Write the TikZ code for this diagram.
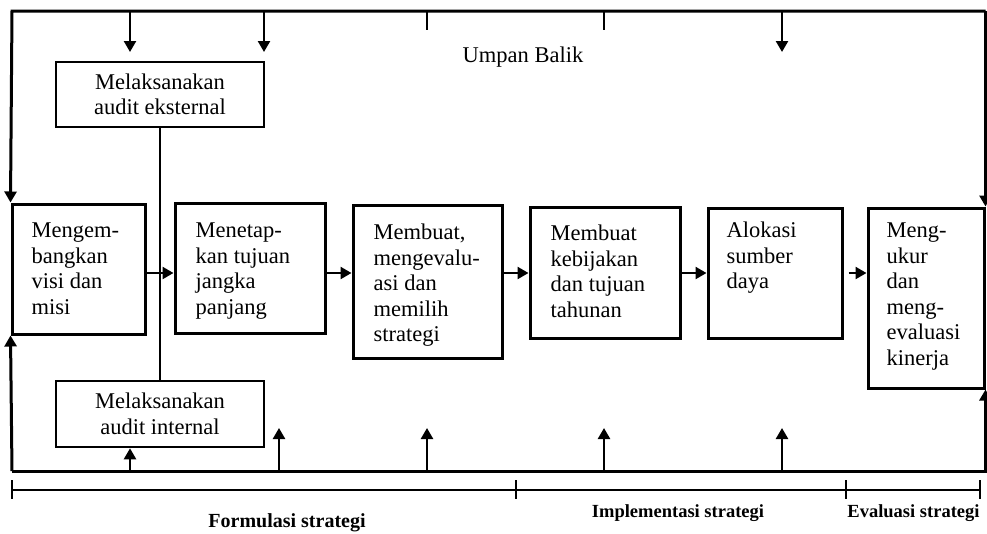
\documentclass[tikz,border=0pt]{standalone}
\usepackage{fontspec}
\setmainfont{Liberation Serif}
\usetikzlibrary{arrows.meta}
\begin{document}
\begin{tikzpicture}[x=1pt,y=-1pt,
  box/.style={draw, line width=3pt, inner sep=0pt},
  btext/.style={anchor=north west, align=left, inner sep=0pt, font=\fontsize{22.5}{25.5}\selectfont},
  abox/.style={draw, line width=2.6pt, inner sep=0pt, align=center, minimum width=208pt, minimum height=65pt, font=\fontsize{22.5}{25.5}\selectfont},
  ln/.style={line width=2.4pt},
  arr/.style={line width=2.4pt, -{Triangle[length=11pt,width=12pt]}},
  fbarr/.style={line width=3pt, -{Triangle[length=11pt,width=12pt]}},
  lab/.style={font=\bfseries\fontsize{18.5}{22}\selectfont, anchor=base, inner sep=0pt}]
\useasboundingbox (0,0) rectangle (987,533);
\fill[white] (0,0) rectangle (987,533);

% main boxes
\node[box, minimum width=133pt, minimum height=130pt] (b1) at (78.5,269) {};
\node[box, minimum width=150pt, minimum height=130pt] (b2) at (250,268) {};
\node[box, minimum width=149pt, minimum height=153pt] (b3) at (427.5,281.5) {};
\node[box, minimum width=150pt, minimum height=131pt] (b4) at (605,272.5) {};
\node[box, minimum width=134pt, minimum height=130pt] (b5) at (775,273) {};
\node[box, minimum width=116pt, minimum height=180pt] (b6) at (926,298) {};

\node[btext] (t1) at ([xshift=21pt,yshift=-19pt]b1.north west) {\rule{0pt}{16pt}Mengem-\\bangkan\\visi dan\\misi};
\node[btext] (t2) at ([xshift=22pt,yshift=-20pt]b2.north west) {\rule{0pt}{16pt}Menetap-\\kan tujuan\\jangka\\panjang};
\node[btext] (t3) at ([xshift=22pt,yshift=-20pt]b3.north west) {\rule{0pt}{16pt}Membuat,\\mengevalu-\\asi dan\\memilih\\strategi};
\node[btext] (t4) at ([xshift=22pt,yshift=-19pt]b4.north west) {\rule{0pt}{16pt}Membuat\\kebijakan\\dan tujuan\\tahunan};
\node[btext] (t5) at ([xshift=20pt,yshift=-15pt]b5.north west) {\rule{0pt}{16pt}Alokasi\\sumber\\daya};
\node[btext] (t6) at ([xshift=20pt,yshift=-15pt]b6.north west) {\rule{0pt}{16pt}Meng-\\ukur\\dan\\meng-\\evaluasi\\kinerja};

% audit boxes
\node[abox] (ext) at (160,94.5) {Melaksanakan\\audit eksternal};
\node[abox, minimum height=66pt] (int) at (160,414) {Melaksanakan\\audit internal};
\draw[ln] (ext.south) -- (int.north);

% flow arrows
\draw[arr] (b1.east |- 0,273) -- (b2.west |- 0,273);
\draw[arr] (b2.east |- 0,273) -- (b3.west |- 0,273);
\draw[arr] (b3.east |- 0,273) -- (b4.west |- 0,273);
\draw[arr] (b4.east |- 0,273) -- (b5.west |- 0,273);
\draw[arr] ([xshift=5pt]b5.east |- 0,273) -- (b6.west |- 0,273);

% feedback loop
\coordinate (tl) at (12,11);
\coordinate (tr) at (b6.east |- 0,11);
\coordinate (bl) at (12,471);
\coordinate (br) at (b6.east |- 0,471);
\draw[fbarr] (tr) -- (tl) -- (b1.north west);
\draw[fbarr] (tr) -- (b6.north east);
\draw[fbarr] (bl) -- (b1.south west);
\draw[fbarr] (bl) -- (br) -- (b6.south east);

\node[font=\fontsize{22.5}{25}\selectfont, anchor=base, inner sep=0pt] (ub) at (523,62) {Umpan Balik};

% top drops and ticks
\coordinate (d1) at (130,11); \coordinate (e1) at (130,52);
\coordinate (d2) at (264,11); \coordinate (e2) at (264,52);
\coordinate (d3) at (782,11); \coordinate (e3) at (782,52);
\draw[arr] (d1) -- (e1);
\draw[arr] (d2) -- (e2);
\draw[arr] (d3) -- (e3);
\coordinate (k1) at (427,11); \coordinate (k1e) at (427,30);
\coordinate (k2) at (604,11); \coordinate (k2e) at (604,30);
\draw[ln] (k1) -- (k1e);
\draw[ln] (k2) -- (k2e);

% bottom ups
\coordinate (u0) at (130,471);
\draw[arr] (u0) -- (u0 |- int.south);
\coordinate (u1) at (279,471); \coordinate (v1) at (279,428);
\coordinate (u2) at (427,471); \coordinate (v2) at (427,428);
\coordinate (u3) at (604,471); \coordinate (v3) at (604,428);
\coordinate (u4) at (782,471); \coordinate (v4) at (782,428);
\draw[arr] (u1) -- (v1);
\draw[arr] (u2) -- (v2);
\draw[arr] (u3) -- (v3);
\draw[arr] (u4) -- (v4);

% scale
\coordinate (s0) at (12,490); \coordinate (s1) at (516,490);
\coordinate (s2) at (846,490); \coordinate (s3) at (980,490);
\draw[line width=2.6pt] (s0) -- (s3);
\foreach \s in {s0,s1,s2,s3}{
  \draw[line width=2.4pt] ([yshift=10pt]\s) -- ([yshift=-9pt]\s);
}
\node[lab, font=\bfseries\fontsize{20}{24}\selectfont] (f) at (287,527) {Formulasi strategi};
\node[lab] (im) at (678,517) {Implementasi strategi};
\node[lab] (ev) at (913.5,517) {Evaluasi strategi};
\end{tikzpicture}
\end{document}
